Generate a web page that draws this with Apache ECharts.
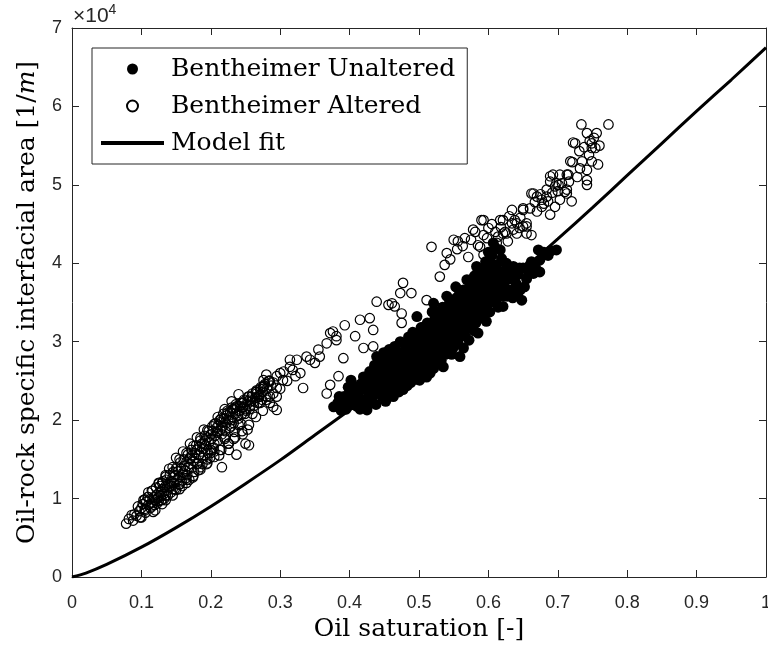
<!DOCTYPE html>
<html><head><meta charset="utf-8">
<script src="https://cdn.jsdelivr.net/npm/echarts@6/dist/echarts.min.js"></script>
<style>html,body{margin:0;padding:0;background:#fff}#c{width:768px;height:653px}</style>
</head><body><div id="c"></div>
<script>
// Values of the interfacial area are in units of 10^4 [1/m]
const yExponentLabel = '×10';
const yExponent = '4';
const seriesNames = ['Bentheimer Unaltered', 'Bentheimer Altered', 'Model fit'];

// Model fit curve
const modelX = [0,0.02,0.05,0.1,0.15,0.2,0.25,0.3,0.35,0.4,0.45,0.5,0.55,0.6,0.65,0.7,0.75,0.8,0.85,0.9,0.95,1.0];
const modelY = [0,0.05,0.16,0.38,0.63,0.90,1.19,1.49,1.81,2.13,2.46,2.81,3.17,3.54,3.92,4.31,4.71,5.12,5.53,5.94,6.34,6.75];

// Bentheimer Unaltered (filled) [saturation, area x1e4]
const unaltered = [
[0.377,2.17],[0.383,2.22],[0.388,2.12],[0.392,2.30],[0.396,2.20],[0.400,2.36],[0.402,2.51],[0.405,2.28],[0.408,2.42],[0.410,2.18],[0.413,2.35],[0.416,2.46],[0.418,2.26],[0.420,2.55],[0.423,2.40],[0.425,2.13],
[0.427,2.30],[0.429,2.62],[0.430,2.48],[0.432,2.38],[0.434,2.56],[0.436,2.70],[0.437,2.44],[0.439,2.81],[0.440,2.52],[0.442,2.34],[0.443,2.64],[0.445,2.58],[0.446,2.72],[0.448,2.46],[0.449,2.86],[0.450,2.62],[0.452,2.24],[0.453,2.54],[0.454,2.76],[0.456,2.68],[0.457,2.90],[0.458,2.50],[0.460,2.62],[0.461,2.80],[0.462,2.42],[0.464,2.72],[0.465,2.94],[0.466,2.56],[0.468,2.66],[0.469,2.84],[0.470,2.48],[0.472,2.76],[0.473,3.00],[0.474,2.60],[0.476,2.70],[0.477,2.39],[0.478,2.88],
[0.480,2.66],[0.481,2.96],[0.482,2.78],[0.484,2.56],[0.485,3.06],[0.486,2.72],[0.487,2.90],[0.489,2.62],[0.490,2.84],[0.491,3.12],[0.492,2.70],[0.494,2.98],[0.495,2.80],[0.496,2.52],[0.497,3.32],[0.498,2.92],[0.499,2.74],[0.500,3.04],[0.501,2.51],[0.502,2.86],[0.503,3.18],[0.505,2.96],[0.506,2.68],[0.507,3.10],[0.508,2.82],[0.510,3.00],[0.511,2.55],[0.512,3.24],[0.513,2.90],[0.514,3.08],[0.516,2.60],[0.517,2.78],[0.518,3.16],[0.519,3.38],[0.520,2.94],[0.521,3.49],[0.522,3.06],[0.524,2.72],[0.525,3.24],[0.526,2.98],[0.527,3.12],[0.529,2.86],[0.530,3.30],[0.531,3.02],[0.533,3.18],[0.535,2.68],
[0.536,3.40],[0.537,3.08],[0.538,2.92],[0.540,3.58],[0.541,3.22],[0.542,3.00],[0.543,3.34],[0.545,3.12],[0.546,3.46],[0.547,2.84],[0.548,3.28],[0.550,3.06],[0.551,3.52],[0.552,3.18],[0.553,3.70],[0.555,3.36],[0.556,2.98],[0.557,3.24],[0.558,3.60],[0.559,2.81],[0.560,3.42],[0.561,3.14],[0.562,3.30],[0.564,3.66],[0.565,3.48],[0.566,3.08],[0.567,3.36],[0.569,3.79],[0.570,3.19],[0.571,3.54],[0.572,3.40],[0.574,3.26],[0.575,3.72],[0.576,3.46],[0.578,3.58],[0.579,3.14],[0.580,3.84],[0.581,3.36],[0.583,3.96],[0.584,3.50],[0.585,3.11],[0.586,3.64],[0.588,3.44],[0.589,3.76],
[0.590,3.56],[0.592,3.90],[0.593,3.30],[0.594,3.68],[0.596,4.02],[0.597,3.48],[0.598,3.80],[0.600,3.62],[0.601,3.94],[0.602,3.38],[0.604,3.72],[0.605,4.10],[0.607,4.26],[0.608,3.56],[0.609,3.86],[0.611,3.66],[0.612,3.98],[0.614,3.44],[0.615,3.76],[0.617,4.17],[0.618,3.88],[0.620,3.60],[0.621,3.45],[0.623,3.70],[0.625,3.92],[0.627,3.58],[0.630,3.80],[0.633,3.66],[0.636,3.96],[0.640,3.74],[0.643,3.86],[0.646,3.66],[0.648,3.53],[0.650,3.94],
[0.655,3.80],[0.660,3.98],[0.665,3.87],[0.672,4.17],[0.674,4.04],[0.674,3.89],[0.686,4.10],[0.698,4.17],
[0.430,2.22],[0.435,2.60],[0.441,2.40],[0.444,2.76],[0.447,2.30],[0.451,2.84],[0.455,2.36],[0.459,2.74],[0.463,2.30],[0.467,2.88],[0.471,2.36],[0.475,2.82],[0.479,2.52],[0.483,2.44],[0.483,2.86],[0.488,2.48],[0.488,3.00],[0.493,2.58],[0.493,2.92],[0.497,2.64],[0.501,2.96],[0.504,2.58],[0.504,3.12],[0.509,2.70],[0.509,3.20],[0.513,2.66],[0.515,3.00],[0.518,2.88],[0.521,2.66],[0.523,3.30],[0.526,2.80],[0.528,3.38],[0.532,2.76],[0.532,3.10],[0.534,3.44],[0.538,2.84],[0.539,3.26],[0.543,2.96],[0.544,3.50],[0.547,3.20],[0.549,2.92],[0.549,3.40],[0.553,3.04],[0.554,3.56],[0.557,3.34],[0.559,3.06],[0.561,3.62],[0.563,3.20],[0.564,2.92],[0.566,3.50],[0.568,3.28],[0.570,3.66],[0.572,3.02],[0.573,3.50],[0.576,3.34],[0.577,3.80],[0.579,3.62],[0.582,3.24],[0.582,3.70],[0.585,3.90],[0.587,3.30],[0.587,3.54],[0.590,3.84],[0.591,3.40],[0.594,3.56],[0.595,3.94],[0.597,3.26],[0.599,3.70],[0.600,4.14],[0.602,3.50],[0.603,3.84],[0.606,3.60],[0.606,3.98],[0.610,3.74],[0.610,4.20],[0.613,3.56],[0.613,3.90],[0.616,3.66],[0.619,3.80],[0.619,4.06],[0.622,3.58],[0.624,3.82],[0.626,4.00],[0.629,3.66],[0.632,3.90],[0.635,3.56],[0.638,3.82],[0.642,3.60],[0.645,3.94],[0.652,3.70],[0.658,3.86],[0.662,4.02],[0.668,3.94],[0.680,4.14],[0.690,4.16],
[0.385,2.30],[0.395,2.14],[0.398,2.42],[0.404,2.20],[0.411,2.30],[0.415,2.14],[0.419,2.40],[0.422,2.22],[0.426,2.50],[0.433,2.30],[0.438,2.20],[0.444,2.48],[0.449,2.40],[0.454,2.46],[0.458,2.60],[0.463,2.52],[0.467,2.74],[0.471,2.58],[0.475,2.48],[0.479,2.76],[0.485,2.64],[0.491,2.76],[0.494,2.66],[0.499,2.86],[0.503,2.74],[0.507,2.90],[0.511,2.84],[0.515,2.74],[0.519,3.00],[0.523,2.90],[0.528,3.00],[0.533,2.98],[0.537,3.20],[0.541,3.10],[0.545,3.30],[0.550,3.24],[0.554,3.10],[0.558,3.44],[0.563,3.40],[0.567,3.60],[0.571,3.30],[0.574,3.56],[0.578,3.40],[0.582,3.56],[0.586,3.76],[0.589,3.62],[0.592,3.72],[0.596,3.84],[0.600,3.76],[0.604,3.66]
];

// Bentheimer Altered (open) [saturation, area x1e4]
const altered = [
[0.078,0.68],[0.086,0.79],[0.090,0.80],[0.093,0.78],[0.097,0.84],[0.100,0.88],[0.102,0.93],[0.105,0.87],[0.107,0.96],[0.110,0.92],[0.112,0.99],[0.115,0.95],[0.117,0.83],[0.118,1.02],[0.120,0.98],[0.122,1.05],[0.124,1.00],[0.126,1.08],[0.128,1.03],[0.130,1.12],[0.132,1.06],[0.134,1.15],[0.135,0.98],[0.137,1.10],[0.139,1.19],[0.140,1.14],[0.142,1.22],[0.144,1.16],[0.145,1.27],[0.147,1.20],[0.149,1.30],[0.150,1.11],[0.152,1.25],[0.153,1.35],[0.155,1.28],[0.157,1.38],[0.158,1.22],[0.160,1.33],[0.162,1.42],[0.163,1.36],[0.165,1.47],[0.166,1.30],[0.168,1.40],[0.170,1.50],[0.171,1.44],[0.173,1.55],[0.174,1.27],[0.175,1.48],[0.177,1.58],[0.178,1.52],[0.180,1.62],[0.181,1.45],[0.183,1.56],[0.184,1.66],[0.186,1.60],[0.187,1.70],[0.189,1.52],[0.190,1.64],[0.192,1.74],[0.193,1.68],[0.195,1.78],[0.196,1.58],[0.198,1.72],[0.200,1.82],[0.201,1.76],[0.203,1.86],[0.204,1.65],[0.206,1.80],[0.208,1.90],[0.209,1.84],[0.211,1.94],[0.212,1.55],[0.214,1.88],[0.215,1.98],[0.216,1.40],[0.217,1.92],[0.219,2.02],[0.220,1.78],[0.222,1.96],[0.223,2.06],[0.225,2.00],[0.226,1.70],[0.228,2.10],[0.229,1.92],[0.231,2.04],[0.232,2.14],[0.234,1.85],[0.235,2.08],[0.237,1.56],[0.238,2.18],[0.240,2.02],[0.241,2.12],[0.243,2.22],[0.244,1.95],[0.246,2.16],[0.248,2.26],[0.249,2.08],[0.250,1.70],[0.252,2.20],[0.254,2.30],[0.255,1.68],[0.256,2.14],[0.258,2.24],[0.260,2.34],[0.262,2.18],[0.264,2.28],[0.266,2.38],[0.268,2.22],[0.270,2.32],[0.272,2.42],[0.275,2.36],[0.278,2.46],[0.280,2.30],[0.283,2.50],
[0.150,1.52],[0.160,1.60],[0.170,1.70],[0.180,1.78],[0.190,1.88],[0.155,1.12],[0.165,1.20],[0.185,1.40],[0.195,1.50],[0.205,1.60],[0.210,2.04],[0.220,2.14],[0.230,2.24],[0.240,2.33],[0.125,1.20],[0.135,1.28],[0.140,1.38],[0.110,1.08],[0.120,0.85],[0.130,0.93],[0.145,1.04],[0.100,0.76],
[0.082,0.74],[0.088,0.72],[0.095,0.90],[0.098,0.76],[0.103,0.98],[0.106,0.82],[0.109,1.02],[0.113,0.88],[0.116,1.10],[0.119,0.92],[0.121,1.14],[0.123,0.94],[0.127,1.16],[0.129,0.98],[0.131,1.22],[0.133,1.00],[0.136,1.24],[0.138,1.04],[0.141,1.30],[0.143,1.08],[0.146,1.34],[0.148,1.12],[0.151,1.40],[0.154,1.18],[0.156,1.46],[0.159,1.16],[0.161,1.50],[0.164,1.26],[0.167,1.56],[0.169,1.24],[0.172,1.62],[0.176,1.34],[0.179,1.68],[0.182,1.36],[0.185,1.74],[0.188,1.44],[0.191,1.80],[0.194,1.44],[0.197,1.86],[0.199,1.52],[0.202,1.92],[0.205,1.70],[0.207,1.96],[0.210,1.74],[0.213,2.00],[0.216,1.82],[0.218,2.08],[0.221,1.86],[0.224,2.12],[0.227,1.90],[0.230,2.16],[0.233,1.96],[0.236,2.20],[0.239,2.06],[0.242,2.18],[0.245,2.08],[0.247,2.22],[0.251,2.12],[0.253,2.24],[0.257,2.18],[0.259,2.30],[0.263,2.24],[0.265,2.36],[0.269,2.30],[0.271,2.40],[0.274,2.26],[0.277,2.44],[0.281,2.40],[0.284,2.50],[0.287,2.44],[0.246,1.82],[0.253,1.88],[0.233,1.76],[0.226,1.62],[0.213,1.62],[0.200,1.58],
[0.105,0.99],[0.105,0.85],[0.115,1.10],[0.115,0.90],[0.125,1.19],[0.125,0.97],[0.135,1.30],[0.135,1.04],[0.145,1.40],[0.145,1.12],[0.155,1.50],[0.155,1.18],[0.165,1.58],[0.165,1.24],[0.175,1.67],[0.175,1.29],[0.185,1.77],[0.185,1.37],[0.195,1.87],[0.195,1.45],[0.205,1.95],[0.205,1.53],[0.215,2.02],[0.215,1.62],[0.225,2.10],[0.225,1.70],[0.235,2.16],[0.235,1.78],[0.245,2.22],[0.245,1.86],[0.255,2.30],[0.255,1.94],[0.265,2.36],[0.265,2.04],[0.275,2.42],[0.275,2.12],[0.285,2.50],[0.285,2.22],[0.295,2.56],[0.295,2.30],
[0.110,1.02],[0.120,0.98],[0.130,1.20],[0.140,1.16],[0.150,1.38],[0.160,1.30],[0.170,1.52],[0.180,1.44],[0.190,1.70],[0.200,1.62],[0.210,1.86],[0.220,1.76],[0.230,2.00],[0.240,1.94],[0.250,2.14],[0.260,2.08],[0.270,2.30],[0.280,2.26],[0.290,2.48],[0.300,2.40],[0.305,2.62],[0.310,2.50],[0.318,2.64],[0.322,2.56],
[0.276,2.43],[0.290,2.34],[0.295,2.13],[0.300,2.60],[0.304,2.51],[0.314,2.68],[0.324,2.77],[0.329,2.60],[0.333,2.41],[0.338,2.81],[0.343,2.77],[0.355,2.90],[0.367,2.34],[0.372,3.11],[0.372,2.45],[0.381,3.07],[0.384,2.56],[0.391,2.79],[0.393,3.21],[0.408,3.07],[0.415,3.28],[0.420,2.92],[0.429,3.30],[0.434,3.15],[0.434,2.94],[0.439,3.51],[0.456,3.47],[0.461,3.49],[0.465,3.45],[0.473,3.62],[0.475,3.24],[0.475,3.36],[0.477,3.75],[0.489,3.62],[0.511,3.53],
[0.376,3.13],[0.381,3.02],[0.367,2.98],[0.350,2.73],[0.357,2.81],[0.314,2.77],[0.276,2.51],[0.280,2.58],[0.247,2.17],[0.256,2.26],[0.266,2.34],[0.271,2.22],[0.285,2.30],[0.295,2.41],[0.290,2.17],
[0.518,4.21],[0.530,3.83],[0.537,3.98],[0.540,4.13],[0.550,4.30],[0.556,4.28],[0.566,4.32],[0.571,4.08],[0.578,4.43],[0.581,4.40],[0.585,4.23],[0.588,4.21],[0.590,4.55],[0.593,4.55],[0.593,4.36],[0.593,4.11],[0.612,4.26],[0.614,4.34],[0.617,4.55],[0.621,4.38],[0.621,4.55],[0.624,4.40],[0.626,4.38],[0.628,4.28],[0.634,4.51],[0.634,4.68],[0.636,4.43],[0.641,4.38],[0.641,4.51],[0.646,4.58],[0.650,4.68],[0.650,4.47],[0.650,4.70],[0.655,4.47],[0.655,4.51],[0.655,4.38],[0.662,4.36],[0.662,4.89],[0.665,4.89],[0.670,4.85],[0.670,4.66],[0.677,4.72],[0.677,4.81],[0.684,4.85],[0.684,4.94],[0.686,4.79],[0.689,4.62],[0.689,5.04],[0.689,5.11],[0.693,5.13],[0.696,4.98],[0.696,4.72],[0.698,5.02],[0.701,5.00],[0.703,5.13],[0.703,4.81],[0.710,4.91],[0.713,4.94],[0.713,5.13],[0.713,4.89],[0.715,5.13],[0.718,5.30],[0.720,4.79],[0.721,5.29],[0.722,5.54],[0.725,5.53],[0.731,5.43],[0.732,5.21],[0.734,5.77],[0.742,5.66],[0.742,5.19],[0.742,5.06],[0.742,5.00],[0.746,5.56],[0.749,5.53],[0.749,5.47],[0.749,5.30],[0.754,5.47],[0.756,5.66],[0.758,5.26],[0.773,5.77],
[0.600,4.45],[0.605,4.50],[0.610,4.40],[0.618,4.46],[0.630,4.60],[0.638,4.55],[0.645,4.45],[0.660,4.70],[0.667,4.78],[0.675,4.88],[0.680,4.76],[0.692,4.90],[0.700,4.92],[0.706,5.02],[0.716,5.04],[0.728,5.10],[0.735,5.30],[0.738,5.48],[0.745,5.38],[0.752,5.60],[0.760,5.50],[0.555,4.18],[0.563,4.22],[0.545,4.05],[0.575,4.30],[0.598,4.32]
];

const modelData = modelX.map((x, i) => [x, modelY[i]]);

const axisColor = '#262626';
const tickFont = 'Liberation Sans';
const serif = 'DejaVu Serif';

const baseAxis = {
  type: 'value',
  axisLine: { onZero: false, lineStyle: { color: axisColor, width: 1 } },
  axisTick: { inside: true, length: 7, lineStyle: { color: axisColor, width: 1 } },
  splitLine: { show: false }
};

const chart = echarts.init(document.getElementById('c'));
chart.setOption({
  animation: false,
  title: {
    text: '{a|' + yExponentLabel + '}{b|' + yExponent + '}',
    left: 73, top: 3, padding: 0,
    textStyle: {
      fontWeight: 'normal', fontSize: 21, fontFamily: tickFont, color: axisColor,
      rich: {
        a: { fontFamily: tickFont, fontSize: 21, fontWeight: 'normal', color: axisColor, lineHeight: 24, verticalAlign: 'bottom' },
        b: { fontFamily: tickFont, fontSize: 14, fontWeight: 'normal', color: axisColor, lineHeight: 24, verticalAlign: 'top' }
      }
    }
  },
  grid: { left: 72, right: 2, top: 28, bottom: 76, containLabel: false, outerBoundsMode: 'none' },
  xAxis: [
    Object.assign({}, baseAxis, {
      min: 0, max: 1, interval: 0.1, position: 'bottom',
      axisLabel: { color: axisColor, fontFamily: tickFont, fontSize: 18, margin: 17 },
      name: 'Oil saturation [-]', nameLocation: 'middle', nameGap: 38,
      nameTextStyle: { fontFamily: serif, fontSize: 25, color: '#000' }
    }),
    Object.assign({}, baseAxis, {
      min: 0, max: 1, interval: 0.1, position: 'top', axisLabel: { show: false }
    })
  ],
  yAxis: [
    Object.assign({}, baseAxis, {
      min: 0, max: 7, interval: 1, position: 'left',
      axisLabel: { color: axisColor, fontFamily: tickFont, fontSize: 18, margin: 10 },
      name: 'Oil-rock specific interfacial area [1/{i|m}]', nameLocation: 'middle', nameGap: 32,
      nameTextStyle: { fontFamily: serif, fontSize: 25, color: '#000',
        rich: { i: { fontFamily: serif, fontStyle: 'italic', fontSize: 25, color: '#000' } } }
    }),
    Object.assign({}, baseAxis, {
      min: 0, max: 7, interval: 1, position: 'right', axisLabel: { show: false }
    })
  ],
  legend: {
    data: [
      { name: seriesNames[0] },
      { name: seriesNames[1] },
      { name: seriesNames[2], itemStyle: { color: 'rgba(0,0,0,0)', borderWidth: 0, borderColor: 'rgba(0,0,0,0)' }, lineStyle: { width: 4, color: '#000' } }
    ],
    orient: 'vertical', left: 92, top: 48,
    itemWidth: 63, itemHeight: 11, itemGap: 7,
    padding: [6, 12, 6, 7],
    borderColor: axisColor, borderWidth: 1, backgroundColor: '#fff',
    textStyle: { fontFamily: serif, fontSize: 25, color: '#000', lineHeight: 30, padding: [0, 0, 0, 2] }
  },
  series: [
    { name: seriesNames[0], type: 'scatter', data: unaltered, symbol: 'circle', symbolSize: 11,
      itemStyle: { color: '#000', opacity: 1 }, z: 2, emphasis: { disabled: true } },
    { name: seriesNames[1], type: 'scatter', data: altered, symbol: 'circle', symbolSize: 9.5,
      itemStyle: { color: 'rgba(0,0,0,0)', borderColor: '#000', borderWidth: 1.2, opacity: 1 }, z: 3, emphasis: { disabled: true } },
    { name: seriesNames[2], type: 'line', data: modelData, symbol: 'none', smooth: 0.3,
      lineStyle: { color: '#000', width: 3 }, itemStyle: { color: '#000' }, z: 4 }
  ]
});
</script></body></html>
